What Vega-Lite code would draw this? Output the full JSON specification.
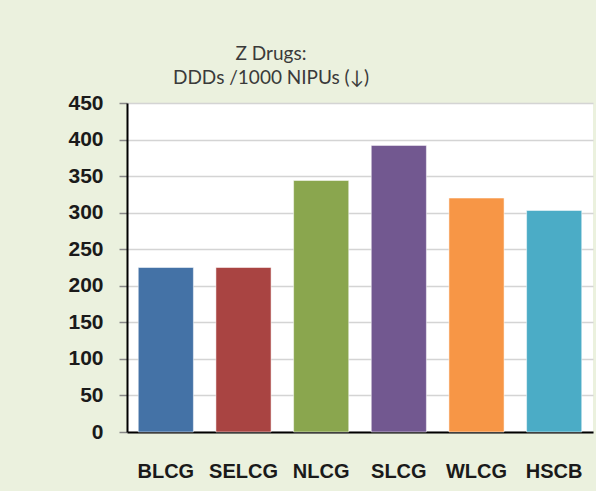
{
  "$schema": "https://vega.github.io/schema/vega-lite/v6.json",
  "autosize": {"type": "none"},
  "width": 466,
  "height": 329,
  "padding": {"left": 127, "top": 103, "right": 3, "bottom": 59},
  "background": "#EBF1DE",
  "title": {
    "text": ["Z Drugs:", "DDDs /1000 NIPUs (↓)"],
    "font": "Lato",
    "fontSize": 19,
    "fontWeight": "normal",
    "color": "#3a3a3a",
    "lineHeight": 24,
    "baseline": "alphabetic",
    "offset": -11,
    "anchor": "middle",
    "frame": "group",
    "dx": -89
  },
  "config": {
    "view": {"fill": "white", "stroke": null}
  },
  "data": {
    "values": [
      {"group": "BLCG", "value": 225},
      {"group": "SELCG", "value": 225},
      {"group": "NLCG", "value": 344},
      {"group": "SLCG", "value": 392},
      {"group": "WLCG", "value": 320},
      {"group": "HSCB", "value": 303}
    ]
  },
  "mark": {"type": "bar", "stroke": "white", "strokeOpacity": 0.5, "strokeWidth": 1},
  "encoding": {
    "x": {
      "field": "group",
      "type": "nominal",
      "sort": null,
      "scale": {"paddingInner": 0.29, "paddingOuter": 0.145},
      "axis": {
        "title": null,
        "labelAngle": 0,
        "labelFont": "Liberation Sans",
        "labelFontSize": 20,
        "labelFontWeight": "bold",
        "labelColor": "#1a1a1a",
        "labelPadding": 29,
        "ticks": false,
        "domainColor": "black",
        "domainWidth": 2,
        "grid": false
      }
    },
    "y": {
      "field": "value",
      "type": "quantitative",
      "scale": {"domain": [0, 450], "nice": false},
      "axis": {
        "title": null,
        "values": [0, 50, 100, 150, 200, 250, 300, 350, 400, 450],
        "labelFont": "Liberation Sans",
        "labelFontSize": 21,
        "labelFontWeight": "bold",
        "labelColor": "#1a1a1a",
        "labelPadding": 16,
        "tickSize": 8,
        "tickColor": "#888888",
        "tickWidth": 1.5,
        "domainColor": "black",
        "domainWidth": 2,
        "gridColor": "#d4d4d4",
        "gridWidth": 1.5
      }
    },
    "color": {
      "field": "group",
      "type": "nominal",
      "legend": null,
      "scale": {
        "domain": ["BLCG", "SELCG", "NLCG", "SLCG", "WLCG", "HSCB"],
        "range": ["#4472A6", "#A94442", "#8AA64E", "#725890", "#F79646", "#4BACC6"]
      }
    }
  }
}
